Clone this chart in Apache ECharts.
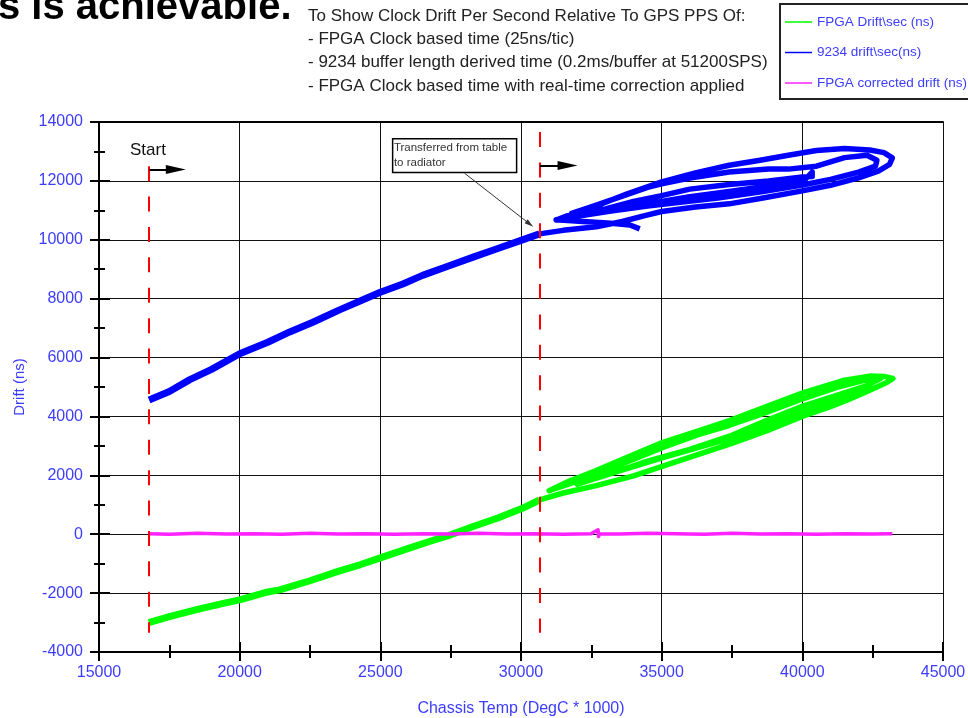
<!DOCTYPE html>
<html><head><meta charset="utf-8">
<script src="https://cdn.jsdelivr.net/npm/echarts@6/dist/echarts.min.js"></script>
<style>html,body{margin:0;padding:0;background:#fff;overflow:hidden}#c{width:968px;height:718px}</style>
</head><body><div id="c"></div>
<script>
// ---- tick values ----
const xTickValues = [15000, 20000, 25000, 30000, 35000, 40000, 45000];
const yTickValues = [-4000, -2000, 0, 2000, 4000, 6000, 8000, 10000, 12000, 14000];

// ---- series names ----
const seriesNames = ['FPGA Drift\\sec (ns)', '9234 drift\\sec(ns)', 'FPGA corrected drift (ns)'];

// ---- FPGA drift (green): on table, then on radiator ----
const fpgaTable = [[16770,-3000],[17500,-2800],[18500,-2550],[19500,-2330],[20000,-2230],[21000,-1960],[21420,-1890],[22500,-1580],[23500,-1260],[24300,-1030],[24975,-814],[26000,-480],[26800,-230],[27500,-20],[28300,260],[29200,560],[30050,880],[30660,1163]];
const fpgaRadiator = [
  [30660,1163],[31500,1400],[32675,1650],[34000,1980],[35043,2310],[36200,2680],[37413,3060],[38700,3500],[40018,4010],[41000,4330],[41560,4540],[42300,4850],[43000,5150],[43217,5288],
  [42900,5360],[42400,5370],[41500,5230],[40018,4800],[38700,4330],[37413,3860],[36200,3480],[35043,3120],[33800,2620],[32675,2160],[31700,1800],[31000,1480],
  [32000,1800],[33500,2350],[35043,2950],[36300,3380],[37413,3700],[38700,4130],[40018,4600],[41200,4980],[42200,5230],[42800,5300],
  [42300,5050],[41000,4650],[40018,4350],[38700,3850],[37413,3330],[36000,2880],[34500,2480],[33000,2000],[32000,1700],
  [33500,2150],[35043,2600],[36500,3000],[37413,3250],[38700,3680],[40018,4180],[41500,4700],[42500,5000]];

// ---- 9234 drift (blue) ----
const d9234Table = [[16780,4560],[17500,4850],[18230,5250],[19000,5600],[20000,6130],[21000,6520],[21780,6870],[22600,7200],[23550,7620],[24300,7930],[25000,8220],[25800,8500],[26500,8790],[27400,9100],[28300,9410],[29100,9680],[30000,9980],[30660,10200]];
const d9234Radiator = [
  [30660,10200],[31500,10320],[32675,10440],[33600,10620],[34400,10820],[35000,10960],[36200,11110],[37400,11220],[38600,11420],[40000,11660],[41000,11850],[42000,12100],[42700,12330],[43100,12560],[43200,12780],
  [42900,12960],[42400,13050],[41500,13100],[40500,13030],[39500,12870],[38500,12700],[37400,12530],[36200,12270],[35000,11966],[33800,11570],[32700,11160],[31800,10870],[31250,10670],
  [32000,10800],[33200,10980],[34500,11150],[35500,11260],[37000,11420],[38600,11640],[40000,11860],[41000,12050],[42000,12300],[42600,12500],
  [42650,12700],[42300,12870],[41500,12790],[40500,12500],[39500,12400],[38800,12400],[37400,12300],[36000,12100],[35000,11900],
  [34500,11780],[33500,11450],[32600,11150],[31800,10900],
  [33000,11050],[34000,11300],[35000,11500],[36000,11720],[37400,11880],[38800,12000],[40000,12130],[40350,12150],[40350,12300],
  [40000,11950],[38600,11800],[37400,11640],[36000,11460],[35000,11300],[33800,11120],[32500,10900],[31250,10680],
  [32200,10620],[33200,10560],[33870,10500],[34220,10370]];

// ---- FPGA corrected drift (magenta) ----
const corrected = [[16770,20],[17500,0],[18500,30],[19500,10],[20500,20],[21500,0],[22500,30],[23500,10],[24500,20],[25500,0],[26500,20],[27500,10],[28500,30],[29500,10],[30500,20],[31500,0],[32500,20],[32740,150],[32755,-80],[32800,20],[33500,10],[34500,30],[35500,20],[36500,0],[37500,30],[38500,10],[39500,20],[40500,0],[41500,20],[42500,10],[43200,20]];

// ---- event markers ----
const startX = 16770, transferX = 30660;
const markerBottom = -3350, startTop = 12500, transferTop = 13660;
const startLabel = 'Start';
const noteText = 'Transferred from table\nto radiator';
const headerLines = [
  'To Show Clock Drift Per Second Relative To GPS PPS Of:',
  '- FPGA Clock based time (25ns/tic)',
  '- 9234 buffer length derived time (0.2ms/buffer at 51200SPS)',
  '- FPGA Clock based time with real-time correction applied'
];
const slideTitle = 's is achievable.';

const FONT = '"Liberation Sans", Arial, sans-serif';
const labelCol = '#3c3cff';
const colGreen = '#00ff00', colBlue = '#0000ff', colMag = '#ff22ff';

const xMin = xTickValues[0], xMax = xTickValues[xTickValues.length-1], xStep = xTickValues[1]-xTickValues[0];
const yMin = yTickValues[0], yMax = yTickValues[yTickValues.length-1], yStep = yTickValues[1]-yTickValues[0];

function baseX(extra){ return Object.assign({type:'value', min:xMin, max:xMax, interval:xStep, gridIndex:0}, extra); }
function baseY(extra){ return Object.assign({type:'value', min:yMin, max:yMax, interval:yStep, gridIndex:0}, extra); }
const blk = {color:'#000', width:2};
const plain = v => String(v);

const chart = echarts.init(document.getElementById('c'), null, {renderer:'canvas'});

const headerGraphics = headerLines.map((t,i)=>({
  type:'text', x:308, y:16 + i*23.3,
  style:{text:t, font:'17px ' + FONT, fill:'#222', align:'left', verticalAlign:'middle'}
}));

const option = {
  animation:false,
  backgroundColor:'#fff',
  grid:{left:99, right:25, top:122, bottom:66, containLabel:false, outerBoundsMode:'none'},
  legend:{
    data:seriesNames, orient:'vertical', left:780, top:4,
    padding:[10, 40, 8, 5], itemGap:14.5, itemWidth:27, itemHeight:1.5, icon:'rect',
    borderColor:'#222', borderWidth:2, backgroundColor:'#fff',
    textStyle:{color:labelCol, fontSize:13.5, fontFamily:FONT, lineHeight:16},
    selectedMode:false
  },
  graphic:[
    {type:'text', x:-2, y:7.5, style:{text:slideTitle, font:'bold 40px ' + FONT, fill:'#000', align:'left', verticalAlign:'middle'}}
  ].concat(headerGraphics),
  xAxis:[
    baseX({position:'bottom',
      axisLine:{onZero:false, lineStyle:blk},
      axisTick:{show:true, inside:false, length:9, lineStyle:blk},
      minorTick:{show:true, splitNumber:2, length:6, lineStyle:blk},
      axisLabel:{color:labelCol, fontSize:16, fontFamily:FONT, margin:13, formatter:plain},
      splitLine:{show:true, lineStyle:{color:'#111', width:1}},
      name:'Chassis Temp (DegC * 1000)', nameLocation:'middle', nameGap:49,
      nameTextStyle:{color:labelCol, fontSize:16, fontFamily:FONT}}),
    baseX({position:'bottom',
      axisLine:{show:false, onZero:false},
      axisTick:{show:true, inside:true, length:10, lineStyle:blk},
      minorTick:{show:true, splitNumber:2, length:7, lineStyle:blk},
      axisLabel:{show:false}, splitLine:{show:false}}),
    baseX({position:'top',
      axisLine:{show:true, onZero:false, lineStyle:blk},
      axisTick:{show:false}, axisLabel:{show:false}, splitLine:{show:false}})
  ],
  yAxis:[
    baseY({position:'left',
      axisLine:{onZero:false, lineStyle:blk},
      axisTick:{show:true, inside:false, length:9, lineStyle:blk},
      minorTick:{show:true, splitNumber:2, length:5, lineStyle:blk},
      axisLabel:{color:labelCol, fontSize:16, fontFamily:FONT, margin:16, formatter:plain},
      splitLine:{show:true, lineStyle:{color:'#111', width:1}},
      name:'Drift (ns)', nameLocation:'middle', nameGap:72,
      nameTextStyle:{color:labelCol, fontSize:15, fontFamily:FONT}}),
    baseY({position:'left',
      axisLine:{show:false, onZero:false},
      axisTick:{show:true, inside:true, length:11, lineStyle:blk},
      minorTick:{show:true, splitNumber:2, length:6, lineStyle:blk},
      axisLabel:{show:false}, splitLine:{show:false}})
  ],
  series:[
    {name:seriesNames[0], type:'line', data:fpgaTable, showSymbol:false, symbol:'none', color:colGreen,
      lineStyle:{color:colGreen, width:7, join:'round'}, z:3},
    {name:seriesNames[0], type:'line', data:fpgaRadiator, showSymbol:false, symbol:'none', color:colGreen,
      lineStyle:{color:colGreen, width:5.5, join:'round'}, z:3},
    {name:seriesNames[1], type:'line', data:d9234Table, showSymbol:false, symbol:'none', color:colBlue,
      lineStyle:{color:colBlue, width:7, join:'round'}, z:4},
    {name:seriesNames[1], type:'line', data:d9234Radiator, showSymbol:false, symbol:'none', color:colBlue,
      lineStyle:{color:colBlue, width:5.5, join:'round'}, z:4},
    {name:seriesNames[2], type:'line', data:corrected, showSymbol:false, symbol:'none', color:colMag,
      lineStyle:{color:colMag, width:3.5, join:'round'}, z:5,
      markLine:{
        silent:true, animation:false, label:{show:false}, z:6,
        data:[
          [{coord:[startX, startTop], symbol:'none', lineStyle:{color:'#ff0000', width:2, type:[15,15.4]}}, {coord:[startX, markerBottom], symbol:'none'}],
          [{coord:[transferX, transferTop], symbol:'none', lineStyle:{color:'#ff0000', width:2, type:[15,15.4]}}, {coord:[transferX, markerBottom], symbol:'none'}],
          [{coord:[startX+20, 12383], symbol:'none', lineStyle:{color:'#000', width:2, type:'solid'}}, {coord:[17730, 12383], symbol:'triangle', symbolSize:[9,20]}],
          [{coord:[transferX+20, 12519], symbol:'none', lineStyle:{color:'#000', width:2, type:'solid'}}, {coord:[31656, 12519], symbol:'triangle', symbolSize:[9,20]}],
          [{coord:[27996, 12258], symbol:'none', lineStyle:{color:'#333', width:1, type:'solid'}}, {coord:[30309, 10536], symbol:'triangle', symbolSize:[5,9]}]
        ]
      },
      markArea:{
        silent:true,
        itemStyle:{color:'#fff', borderColor:'#000', borderWidth:1.5},
        label:{show:true, position:'insideTopLeft', distance:2, formatter:noteText, color:'#333', fontSize:11.5, fontFamily:FONT, lineHeight:15.5},
        data:[[{coord:[25437, 13434]}, {coord:[29844, 12281]}]]
      },
      markPoint:{
        silent:true, animation:false,
        data:[{coord:[16740, 13027], symbol:'circle', symbolSize:1, itemStyle:{color:'rgba(0,0,0,0)'},
          label:{show:true, position:'inside', formatter:startLabel, color:'#111', fontSize:17, fontFamily:FONT}}]
      }
    }
  ]
};
chart.setOption(option);
</script>
</body></html>
